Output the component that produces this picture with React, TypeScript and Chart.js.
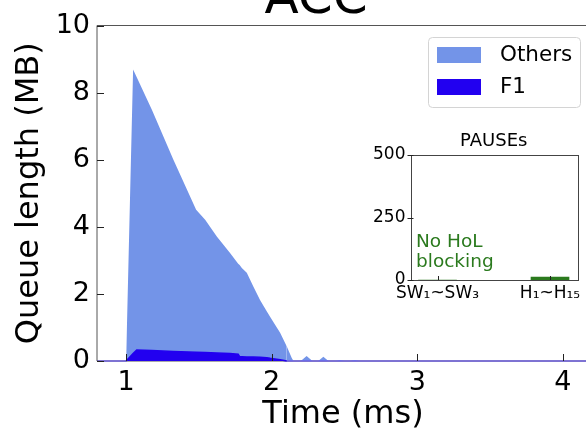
import React, { useEffect, useRef } from 'react';
import { Chart, registerables } from 'chart.js';

Chart.register(...registerables);

const FONT = "'DejaVu Sans', 'Liberation Sans', sans-serif";

// Queue trace, time in ms, queue length in MB
const times = [
  0.8, 1.0, 1.048, 1.073, 1.177, 1.325, 1.481, 1.543, 1.623, 1.714, 1.77, 1.78,
  1.795, 1.829, 1.874, 1.92, 1.966, 1.989, 2.058, 2.104, 2.138, 2.15, 2.2, 2.24,
  2.28, 2.32, 2.355, 2.39, 2.44, 2.47, 2.5, 2.54, 2.57, 2.6, 4.3,
];
const f1Queue = [
  0, 0, 0.22, 0.33, 0.31, 0.28, 0.26, 0.25, 0.24, 0.22, 0.2, 0.13,
  0.13, 0.12, 0.12, 0.11, 0.1, 0.08, 0.04, 0, 0, 0, 0, 0,
  0, 0, 0, 0, 0, 0, 0, 0, 0, 0, 0,
];
const othersQueue = [
  0, 0, 8.47, 8.13, 7.18, 5.72, 4.25, 3.96, 3.47, 3.0, 2.7, 2.73,
  2.64, 2.51, 2.1, 1.71, 1.38, 1.24, 0.8, 0.43, 0.09, 0, 0, 0.15,
  0, 0, 0.13, 0, 0, 0.03, 0, 0, 0.03, 0, 0,
];
const xTicks = [1, 2, 3, 4];
const yTicks = [0, 2, 4, 6, 8, 10];

// PAUSE frame counts per device group
const pauseGroups = ['SW\u2081~SW\u2083', 'H\u2081~H\u2081\u2085'];
const pauseCounts = [0, 12];
const pauseTicks = [0, 250, 500];

const OTHERS_COLOR = 'rgb(115,148,232)';
const F1_COLOR = 'rgb(34,0,240)';
const BASE_COLOR = 'rgba(105,90,232,0.9)';
const GREEN = '#2b7a1e';
const SPINE = '#555';

const mainDecor = {
  id: 'mainDecor',
  beforeDatasetsDraw(chart: any) {
    const { ctx, chartArea: a } = chart;
    ctx.save();
    ctx.strokeStyle = SPINE;
    ctx.lineWidth = 1;
    ctx.beginPath();
    ctx.moveTo(a.left, a.bottom);
    ctx.lineTo(a.right, a.bottom);
    ctx.stroke();
    ctx.restore();
  },
  afterDatasetsDraw(chart: any) {
    const { ctx, chartArea: a, scales } = chart;
    ctx.save();
    // spines
    ctx.strokeStyle = SPINE;
    ctx.lineWidth = 1;
    ctx.beginPath();
    ctx.moveTo(a.left, a.bottom);
    ctx.lineTo(a.left, a.top);
    ctx.lineTo(a.right + 5, a.top);
    ctx.stroke();
    // inward tick marks
    ctx.strokeStyle = '#222';
    ctx.beginPath();
    for (const v of xTicks) {
      const px = Math.round(scales.x.getPixelForValue(v)) + 0.5;
      ctx.moveTo(px, a.bottom);
      ctx.lineTo(px, a.bottom - 7);
    }
    for (const v of yTicks) {
      const py = Math.round(scales.y.getPixelForValue(v)) + 0.5;
      ctx.moveTo(a.left, py);
      ctx.lineTo(a.left + 7, py);
    }
    ctx.stroke();

    // title
    ctx.fillStyle = '#000';
    ctx.font = `50px ${FONT}`;
    ctx.textAlign = 'center';
    ctx.textBaseline = 'alphabetic';
    ctx.fillText('ACC', 316, 12.5);

    // legend (top series first)
    const lx = 428, ly = 37, lw = 152, lh = 70;
    ctx.fillStyle = 'rgba(255,255,255,0.85)';
    ctx.strokeStyle = '#d4d4d4';
    ctx.lineWidth = 1;
    ctx.beginPath();
    ctx.roundRect(lx + 0.5, ly + 0.5, lw, lh, 4);
    ctx.fill();
    ctx.stroke();
    const items = [...chart.data.datasets].reverse();
    items.forEach((ds: any, i: number) => {
      const cy = 55 + i * 32;
      ctx.fillStyle = ds.backgroundColor;
      ctx.fillRect(437, cy - 8, 44, 16);
      ctx.fillStyle = '#000';
      ctx.font = `21.5px ${FONT}`;
      ctx.textAlign = 'left';
      ctx.textBaseline = 'middle';
      ctx.fillText(ds.label, 500, cy);
    });
    ctx.restore();
  },
};

const insetDecor = {
  id: 'insetDecor',
  beforeDatasetsDraw(chart: any) {
    const { ctx, chartArea: a } = chart;
    ctx.save();
    ctx.fillStyle = '#fff';
    ctx.fillRect(a.left, a.top, a.right - a.left, a.bottom - a.top);
    ctx.restore();
  },
  afterDatasetsDraw(chart: any) {
    const { ctx, chartArea: a, scales } = chart;
    ctx.save();
    ctx.strokeStyle = '#444';
    ctx.lineWidth = 1;
    ctx.strokeRect(Math.round(a.left) + 0.5, Math.round(a.top) + 0.5,
      Math.round(a.right - a.left), Math.round(a.bottom - a.top));
    ctx.strokeStyle = '#222';
    ctx.beginPath();
    pauseGroups.forEach((_, i) => {
      const px = Math.round(scales.x.getPixelForValue(i)) + 0.5;
      ctx.moveTo(px, a.bottom);
      ctx.lineTo(px, a.bottom - 4);
    });
    for (const v of pauseTicks) {
      const py = Math.round(scales.y.getPixelForValue(v)) + 0.5;
      ctx.moveTo(a.left - 3, py);
      ctx.lineTo(a.left + 3, py);
    }
    ctx.stroke();

    ctx.fillStyle = '#000';
    ctx.font = `18px ${FONT}`;
    ctx.textAlign = 'center';
    ctx.textBaseline = 'middle';
    ctx.fillText('PAUSEs', (a.left + a.right) / 2, 16);

    ctx.fillStyle = GREEN;
    ctx.font = `18.5px ${FONT}`;
    ctx.textAlign = 'left';
    ctx.textBaseline = 'alphabetic';
    ctx.fillText('No HoL', a.left + 5.5, 122);
    ctx.fillText('blocking', a.left + 5.5, 142);
    ctx.restore();
  },
};

export default function App() {
  const mainRef = useRef<HTMLCanvasElement>(null);
  const insetRef = useRef<HTMLCanvasElement>(null);

  useEffect(() => {
    const main = new Chart(mainRef.current as HTMLCanvasElement, {
      type: 'line',
      data: {
        datasets: [
          {
            label: 'F1',
            data: times.map((t, i) => ({ x: t, y: f1Queue[i] })),
            backgroundColor: F1_COLOR,
            borderColor: F1_COLOR,
            borderWidth: 1.5,
            fill: 'origin',
            pointRadius: 0,
            tension: 0,
            clip: false as any,
            segment: {
              borderColor: (c: any) =>
                c.p0.parsed.y === 0 && c.p1.parsed.y === 0 ? BASE_COLOR : F1_COLOR,
            },
          },
          {
            label: 'Others',
            data: times.map((t, i) => ({ x: t, y: othersQueue[i] })),
            backgroundColor: OTHERS_COLOR,
            borderColor: OTHERS_COLOR,
            borderWidth: 0,
            fill: '-1',
            pointRadius: 0,
            tension: 0,
            clip: false as any,
          },
        ],
      },
      options: {
        animation: false,
        responsive: false,
        events: [],
        layout: { padding: { top: 25.5, right: 3, left: 0, bottom: 0 } },
        plugins: {
          legend: { display: false },
          tooltip: { enabled: false },
        },
        scales: {
          x: {
            type: 'linear',
            min: 0.8,
            max: 4.18,
            afterFit: (s: any) => { s.height = 67; },
            afterBuildTicks: (s: any) => { s.ticks = xTicks.map((v) => ({ value: v })); },
            grid: { display: false, drawTicks: false, tickLength: 0 },
            border: { display: false },
            ticks: {
              font: { family: FONT, size: 27 },
              color: '#000',
              padding: 6,
              maxRotation: 0,
              callback: (v: any) => String(v),
            },
            title: {
              display: true,
              text: 'Time (ms)',
              font: { family: FONT, size: 32 },
              color: '#000',
              padding: { top: 0, bottom: -6 },
            },
          },
          y: {
            type: 'linear',
            stacked: true,
            min: 0,
            max: 10,
            afterFit: (s: any) => { s.width = 97; },
            afterBuildTicks: (s: any) => { s.ticks = yTicks.map((v) => ({ value: v })); },
            grid: { display: false, drawTicks: false, tickLength: 0 },
            border: { display: false },
            ticks: {
              font: { family: FONT, size: 27 },
              color: '#000',
              padding: 7,
              callback: (v: any) => String(v),
            },
            title: {
              display: true,
              text: 'Queue length (MB)',
              font: { family: FONT, size: 32 },
              color: '#000',
              padding: { top: 10, bottom: 0 },
            },
          },
        },
      },
      plugins: [mainDecor],
    } as any);

    const inset = new Chart(insetRef.current as HTMLCanvasElement, {
      type: 'bar',
      data: {
        datasets: [
          {
            label: 'PAUSEs',
            data: pauseGroups.map((_, i) => ({ x: i, y: pauseCounts[i] })),
            backgroundColor: GREEN,
            borderWidth: 0,
            barThickness: 38,
          },
        ],
      },
      options: {
        animation: false,
        responsive: false,
        events: [],
        layout: { padding: { top: 30, right: 9, left: 0, bottom: 0 } },
        plugins: { legend: { display: false }, tooltip: { enabled: false } },
        scales: {
          x: {
            type: 'linear',
            offset: false,
            min: -0.24,
            max: 1.24,
            afterFit: (s: any) => { s.height = 25; },
            afterBuildTicks: (s: any) => { s.ticks = pauseGroups.map((_, i) => ({ value: i })); },
            grid: { display: false, drawTicks: false, tickLength: 0, offset: false },
            border: { display: false },
            ticks: {
              font: { family: FONT, size: 17 },
              color: '#000',
              padding: 3,
              maxRotation: 0,
              autoSkip: false,
              callback: (v: any) => pauseGroups[v] ?? '',
            },
          },
          y: {
            type: 'linear',
            min: 0,
            max: 500,
            afterFit: (s: any) => { s.width = 50.5; },
            afterBuildTicks: (s: any) => { s.ticks = pauseTicks.map((v) => ({ value: v })); },
            grid: { display: false, drawTicks: false, tickLength: 0 },
            border: { display: false },
            ticks: {
              font: { family: FONT, size: 17 },
              color: '#000',
              padding: 5,
              callback: (v: any) => String(v),
            },
          },
        },
      },
      plugins: [insetDecor],
    } as any);

    return () => {
      main.destroy();
      inset.destroy();
    };
  }, []);

  return (
    <div
      style={{
        position: 'fixed',
        left: 0,
        top: 0,
        width: 586,
        height: 428,
        overflow: 'hidden',
        background: '#fff',
      }}
    >
      <canvas
        ref={mainRef}
        width={592}
        height={428}
        style={{ position: 'absolute', left: 0, top: 0, width: 592, height: 428 }}
      />
      <canvas
        ref={insetRef}
        width={226}
        height={180}
        style={{ position: 'absolute', left: 360, top: 125, width: 226, height: 180 }}
      />
    </div>
  );
}
